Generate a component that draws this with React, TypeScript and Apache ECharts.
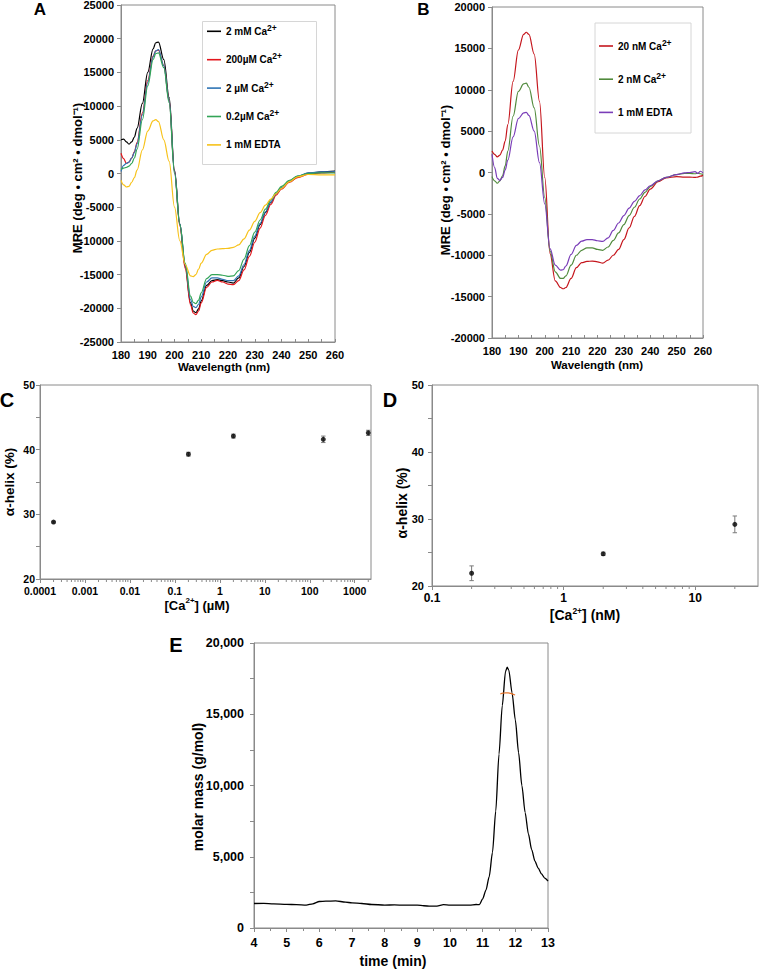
import React, { useEffect, useRef } from "react";
import * as echarts from "echarts";

// ---------- Panel A : CD spectra (wavelength nm vs MRE) ----------
const wlA = [180,181,182,183,184,185,186,188,190,192,193,194,196,198,200,202,204,206,207,208,209,210,212,214,216,218,220,222,224,226,228,230,232,234,236,238,240,243,246,250,255,260];
const aCa2mM = [5000,5100,4700,4350,4700,5400,6700,10400,15000,18500,19400,19500,16900,11300,500,-7500,-13800,-19200,-20400,-20650,-20100,-18900,-16600,-15900,-15750,-15900,-16100,-16250,-15500,-13800,-11700,-9600,-7600,-5800,-4300,-3000,-2200,-1200,-500,50,250,350];
const aCa200uM = [3000,2200,1500,1700,2300,3200,4600,9000,13800,17400,18200,18300,16000,10800,300,-7800,-14100,-19500,-20700,-20950,-20400,-19200,-16900,-16100,-15850,-16100,-16400,-16500,-15900,-14300,-12300,-10200,-8100,-6200,-4600,-3200,-2300,-1300,-600,-100,100,200];
const aCa2uM = [300,1200,1500,1700,2300,3100,4400,8700,13500,17300,18200,18400,16000,10800,300,-7500,-13500,-18700,-19700,-19900,-19400,-18300,-16100,-15500,-15500,-15700,-15900,-15900,-15200,-13500,-11400,-9300,-7400,-5700,-4200,-3000,-2100,-1100,-400,100,250,300];
const aCa02uM = [600,800,900,1100,1500,2300,3600,8000,13000,16900,17800,17900,15700,10500,0,-7600,-13300,-18200,-19100,-19300,-18800,-17700,-15600,-15000,-15000,-15100,-15250,-15200,-14400,-12700,-10700,-8700,-6900,-5300,-3900,-2800,-1900,-1000,-400,0,100,100];
const aEdta = [-1000,-1700,-2000,-1900,-1300,-600,500,3500,6300,7800,8000,7700,5000,1800,-5000,-10000,-13500,-15200,-15300,-15000,-14200,-13300,-12000,-11400,-11200,-11150,-11100,-10950,-10600,-9700,-8400,-7100,-5800,-4700,-3800,-3000,-2200,-1200,-500,-150,-200,-200];

// ---------- Panel B ----------
const wlB = [180,181,182,183,184,185,186,188,190,192,193,194,196,198,200,202,204,206,207,208,210,212,214,216,218,220,222,224,226,228,230,232,234,236,238,240,243,246,250,253,255,257,258,259,260];
const bCa20nM = [2600,2200,1900,2100,2700,3800,5800,11000,14800,16700,16950,16700,14300,8600,-600,-9800,-13100,-13900,-14050,-13900,-12800,-11500,-10900,-10750,-10700,-10800,-10950,-10600,-10000,-9300,-8100,-6700,-5300,-4000,-2900,-2000,-1100,-650,-500,-550,-550,-600,-550,-450,-350];
const bCa2nM = [-500,-1000,-1300,-1000,-400,800,2600,6800,9800,10700,10800,10300,7800,3200,-3000,-9500,-12000,-12800,-12800,-12500,-11200,-10000,-9400,-9100,-9100,-9300,-9400,-9000,-8200,-7300,-6300,-5200,-4200,-3200,-2400,-1700,-1000,-600,-250,-100,-100,-150,-100,-150,-250];
const bEdta = [2200,600,-700,-950,-600,300,1500,4300,6500,7200,7270,6900,5000,1200,-3800,-9200,-11200,-11800,-11750,-11300,-9900,-8800,-8300,-8100,-8100,-8250,-8320,-7900,-7000,-6100,-5200,-4300,-3500,-2800,-2100,-1600,-1000,-600,-250,-50,0,100,-100,150,-50];

// ---------- Panel C : helix vs [Ca2+] (µM) ----------
const cConc = [0.0002, 0.2, 2, 200, 2000];
const cHelix = [28.8, 39.3, 42.1, 41.6, 42.6];
const cErr = [0.15, 0.3, 0.3, 0.5, 0.4];

// ---------- Panel D : helix vs [Ca2+] (nM) ----------
const dConc = [0.2, 2, 20];
const dHelix = [21.9, 24.8, 29.2];
const dErr = [1.1, 0.25, 1.25];

// ---------- Panel E : molar mass vs time ----------
const eTime = [4,4.3,4.6,5,5.3,5.6,5.8,6,6.2,6.5,6.8,7,7.3,7.6,8,8.3,8.6,9,9.2,9.4,9.6,9.8,10,10.3,10.6,10.8,10.9,11,11.1,11.2,11.3,11.4,11.5,11.6,11.7,11.75,11.8,11.9,12,12.1,12.2,12.3,12.4,12.5,12.6,12.7,12.8,12.9,13];
const eMass = [1720,1730,1700,1660,1640,1610,1700,1860,1880,1900,1820,1760,1720,1650,1610,1620,1600,1610,1560,1530,1540,1640,1600,1600,1610,1650,1640,2050,2650,3600,5300,8200,12200,15600,18000,18300,18100,16500,14600,12300,10000,8100,6600,5500,4700,4200,3800,3500,3300];
const eFitTime = [11.54, 11.62, 11.7, 11.78, 11.86, 11.94, 11.99];
const eFitMass = [16420, 16480, 16500, 16500, 16460, 16400, 16340];

// tick labels / legend texts
const aLegend = ["2 mM Ca{sup|2+}", "200µM Ca{sup|2+}", "2 µM Ca{sup|2+}", "0.2µM Ca{sup|2+}", "1 mM EDTA"];
const bLegend = ["20 nM Ca{sup|2+}", "2 nM Ca{sup|2+}", "1 mM EDTA"];
const logMinorMultipliers = [2, 3, 4, 5, 6, 7, 8, 9];
const cDecades = [0.0001, 0.001, 0.01, 0.1, 1, 10, 100, 1000];
const dDecades = [0.1, 1, 10];

const FONT = "'Liberation Sans', Arial, Helvetica, sans-serif";
const GRAY = "#8a8a8a";

const zip = (xs: number[], ys: number[]) => xs.map((x, i) => [x, ys[i]]);

const App = () => {
  const ref = useRef<HTMLDivElement>(null);
  useEffect(() => {
    const chart = echarts.init(ref.current!, null, { renderer: "svg" });
    const lbl = (size: number, extra: any = {}) => ({ fontFamily: FONT, fontWeight: "bold", fontSize: size, color: "#000", ...extra });
    const grids = [
      { left: 121, top: 5, width: 214, height: 337 },
      { left: 492, top: 7, width: 211, height: 331 },
      { left: 40, top: 385, width: 331, height: 194 },
      { left: 432, top: 385, width: 326, height: 201 },
      { left: 254, top: 643, width: 294, height: 285 },
    ].map((g) => ({ ...g, show: true, borderColor: GRAY, borderWidth: 1, backgroundColor: "transparent", containLabel: false, outerBoundsMode: "none" }));

    const axisLine = { show: true, onZero: false, lineStyle: { color: GRAY, width: 1 } };
    const tickStyle = { color: GRAY, width: 1 };
    const logFmt = (v: number) => String(Number(v.toPrecision(6)));
    const plain = (v: number) => String(v);

    const xAxis: any[] = [
      { gridIndex: 0, type: "value", min: 180, max: 260, interval: 10, axisLine, splitLine: { show: false },
        axisTick: { inside: true, length: 3, lineStyle: tickStyle }, minorTick: { show: true, splitNumber: 2, length: 3, lineStyle: tickStyle },
        axisLabel: lbl(11, { margin: 7, formatter: plain }) },
      { gridIndex: 1, type: "value", min: 180, max: 260, interval: 10, axisLine, splitLine: { show: false },
        axisTick: { inside: true, length: 3, lineStyle: tickStyle }, minorTick: { show: true, splitNumber: 2, length: 3, lineStyle: tickStyle },
        axisLabel: lbl(11, { margin: 7, formatter: plain }) },
      { gridIndex: 2, type: "log", logBase: 10, min: 0.0001, max: 2300, axisLine, splitLine: { show: false },
        axisTick: { length: 4, lineStyle: tickStyle }, axisLabel: lbl(10.5, { margin: 6, formatter: logFmt, showMaxLabel: false }) },
      { gridIndex: 3, type: "log", logBase: 10, min: 0.1, max: 30, axisLine, splitLine: { show: false },
        axisTick: { length: 4, lineStyle: tickStyle }, axisLabel: lbl(12, { margin: 6, formatter: logFmt, showMaxLabel: false }) },
      { gridIndex: 4, type: "value", min: 4, max: 13, interval: 1, axisLine, splitLine: { show: false },
        axisTick: { length: 4, lineStyle: tickStyle }, minorTick: { show: true, splitNumber: 2, length: 3, lineStyle: tickStyle },
        axisLabel: lbl(12.5, { margin: 8, formatter: plain }) },
    ];
    const yAxis: any[] = [
      { gridIndex: 0, type: "value", min: -25000, max: 25000, interval: 5000, axisLine, splitLine: { show: false },
        axisTick: { length: 4, lineStyle: tickStyle }, axisLabel: lbl(11, { margin: 7, formatter: plain }) },
      { gridIndex: 1, type: "value", min: -20000, max: 20000, interval: 5000, axisLine, splitLine: { show: false },
        axisTick: { length: 4, lineStyle: tickStyle }, axisLabel: lbl(11, { margin: 7, formatter: plain }) },
      { gridIndex: 2, type: "value", min: 20, max: 50, interval: 5, axisLine, splitLine: { show: false },
        axisTick: { length: 4, lineStyle: tickStyle }, axisLabel: lbl(10.5, { margin: 5, formatter: (v: number) => (v % 10 === 0 ? String(v) : "") }) },
      { gridIndex: 3, type: "value", min: 20, max: 50, interval: 5, axisLine, splitLine: { show: false },
        axisTick: { length: 4, lineStyle: tickStyle }, axisLabel: lbl(11, { margin: 8, formatter: (v: number) => (v % 10 === 0 ? String(v) : "") }) },
      { gridIndex: 4, type: "value", min: 0, max: 20000, interval: 2500, axisLine, splitLine: { show: false },
        axisTick: { length: 4, lineStyle: tickStyle }, axisLabel: lbl(12.5, { margin: 10, formatter: (v: number) => (v % 5000 === 0 ? v.toLocaleString("en-US") : "") }) },
    ];

    const line = (id: string, xi: number, xs: number[], ys: number[], color: string, width = 1.2) => ({
      id, name: id, type: "line", xAxisIndex: xi, yAxisIndex: xi, data: zip(xs, ys), showSymbol: false, symbol: "none",
      smooth: 0.35, smoothMonotone: "x", lineStyle: { color, width }, itemStyle: { color }, z: 3,
    });

    const errBars = (xi: number, xs: number[], ys: number[], es: number[]) => ({
      type: "custom", xAxisIndex: xi, yAxisIndex: xi, clip: false, silent: true, z: 3,
      data: xs.map((x, i) => [x, ys[i] - es[i], ys[i] + es[i]]),
      encode: { x: 0, y: [1, 2] },
      renderItem: (_p: any, api: any) => {
        const x = api.value(0);
        const lo = api.coord([x, api.value(1)]);
        const hi = api.coord([x, api.value(2)]);
        const w = 2.2;
        const st = { stroke: "#7a7a7a", lineWidth: 1 };
        return { type: "group", children: [
          { type: "line", shape: { x1: lo[0], y1: lo[1], x2: hi[0], y2: hi[1] }, style: st },
          { type: "line", shape: { x1: lo[0] - w, y1: lo[1], x2: lo[0] + w, y2: lo[1] }, style: st },
          { type: "line", shape: { x1: hi[0] - w, y1: hi[1], x2: hi[0] + w, y2: hi[1] }, style: st },
        ] };
      },
    });

    const minorLogTicks = (xi: number, decades: number[], max: number, yMin: number) => ({
      type: "custom", xAxisIndex: xi, yAxisIndex: xi, clip: false, silent: true, z: 3,
      data: decades.flatMap((d) => logMinorMultipliers.map((m) => [d * m, yMin])).filter((p) => p[0] < max),
      encode: { x: 0, y: 1 },
      renderItem: (_p: any, api: any) => {
        const pt = api.coord([api.value(0), api.value(1)]);
        return { type: "line", shape: { x1: pt[0], y1: pt[1], x2: pt[0], y2: pt[1] + 3 }, style: { stroke: GRAY, lineWidth: 1 } };
      },
    });

    const scatter = (xi: number, xs: number[], ys: number[]) => ({
      type: "scatter", xAxisIndex: xi, yAxisIndex: xi, data: zip(xs, ys), symbol: "circle", symbolSize: 5,
      itemStyle: { color: "#000" }, z: 4, silent: true,
    });

    const series: any[] = [
      line("a1", 0, wlA, aCa2mM, "#000000"),
      line("a2", 0, wlA, aCa200uM, "#e3161d"),
      line("a3", 0, wlA, aCa2uM, "#2f74b5"),
      line("a4", 0, wlA, aCa02uM, "#33a457"),
      line("a5", 0, wlA, aEdta, "#f7c21a"),
      line("b1", 1, wlB, bCa20nM, "#c5161d"),
      line("b2", 1, wlB, bCa2nM, "#508a3c"),
      line("b3", 1, wlB, bEdta, "#7a3db8"),
      minorLogTicks(2, cDecades, 2300, 20),
      errBars(2, cConc, cHelix, cErr),
      scatter(2, cConc, cHelix),
      minorLogTicks(3, dDecades, 30, 20),
      errBars(3, dConc, dHelix, dErr),
      scatter(3, dConc, dHelix),
      line("e1", 4, eTime, eMass, "#000000", 1.3),
      line("e2", 4, eFitTime, eFitMass, "#e8752b", 1.2),
    ];
    series[series.length - 2].smooth = 0.25;

    const legendText: Record<string, string> = {
      a1: aLegend[0], a2: aLegend[1], a3: aLegend[2], a4: aLegend[3], a5: aLegend[4],
      b1: bLegend[0], b2: bLegend[1], b3: bLegend[2],
    };
    const legendBase = {
      orient: "vertical", padding: 0, icon: "rect", itemHeight: 1.6, selectedMode: false,
      formatter: (n: string) => legendText[n],
      textStyle: { ...lbl(10), lineHeight: 16,
        rich: { sup: { fontFamily: FONT, fontWeight: "bold", fontSize: 8.5, color: "#000", verticalAlign: "top" } } },
    };
    const legend = [
      { ...legendBase, data: ["a1", "a2", "a3", "a4", "a5"], left: 207, top: 23.3, itemGap: 12.4, itemWidth: 14 },
      { ...legendBase, data: ["b1", "b2", "b3"], left: 599, top: 38, itemGap: 17.2, itemWidth: 14 },
    ];

    const txt = (text: string, x: number, y: number, size: number, rot = 0, rich: any = undefined) => ({
      type: "text", x, y, rotation: rot, silent: true, z: 10,
      style: { text, fontFamily: FONT, fontWeight: "bold", fontSize: size, fill: "#000", align: "center", verticalAlign: "middle",
        lineHeight: size + 4, rich },
    });
    const supRich = (size: number) => ({ sup: { fontFamily: FONT, fontWeight: "bold", fontSize: size, fill: "#000", verticalAlign: "top" } });
    const R = Math.PI / 2;

    const graphic = [
      { type: "rect", shape: { x: 202.5, y: 21.5, width: 114, height: 143 }, style: { fill: "#fff", stroke: "#d6d6d6", lineWidth: 1 }, z: 1, silent: true },
      { type: "rect", shape: { x: 595, y: 23, width: 96, height: 110 }, style: { fill: "#fff", stroke: "#d6d6d6", lineWidth: 1 }, z: 1, silent: true },
      txt("A", 40, 9, 17),
      txt("B", 423.5, 9, 17),
      txt("C", 7, 400, 20),
      txt("D", 390, 400, 20),
      txt("E", 176, 645, 20),
      txt("MRE (deg • cm² • dmol⁻¹)", 77, 178, 13, R),
      txt("Wavelength (nm)", 224, 367, 11.5),
      txt("MRE (deg • cm² • dmol⁻¹)", 445, 180, 13, R),
      txt("Wavelength (nm)", 597, 365, 11.5),
      txt("α-helix (%)", 9, 482, 13.5, R),
      txt("[Ca{sup|2+}] (µM)", 197, 605, 13, 0, supRich(8)),
      txt("α-helix (%)", 402, 503, 14, R),
      txt("[Ca{sup|2+}] (nM)", 585, 615, 14, 0, supRich(8.5)),
      txt("molar mass (g/mol)", 198, 787, 14, R),
      txt("time (min)", 393, 961, 14),
    ];

    chart.setOption({
      animation: false,
      backgroundColor: "#ffffff",
      grid: grids,
      xAxis,
      yAxis,
      legend,
      series,
      graphic,
    });
    return () => chart.dispose();
  }, []);
  return <div ref={ref} style={{ position: "absolute", left: 0, top: 0, width: 760, height: 969 }} />;
};

export default App;
